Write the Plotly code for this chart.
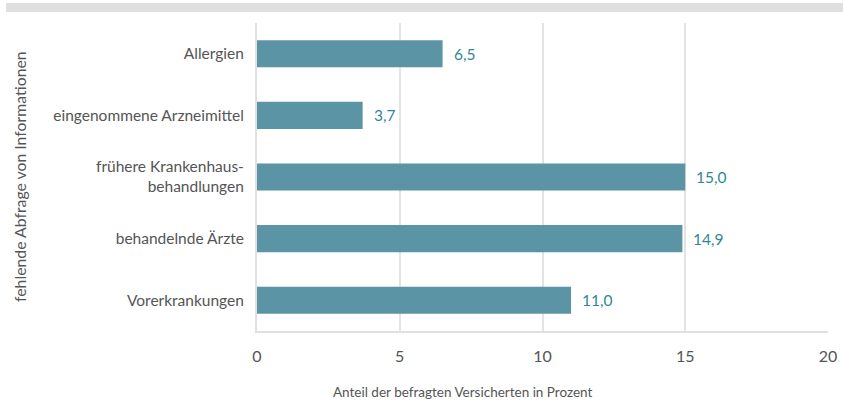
import plotly.graph_objects as go

categories = ["Allergien", "eingenommene Arzneimittel", "frühere Krankenhaus-<br>behandlungen",
              "behandelnde Ärzte", "Vorerkrankungen"]
values = [6.5, 3.7, 15.0, 14.9, 11.0]
labels = ["6,5", "3,7", "15,0", "14,9", "11,0"]
x_ticks = [0, 5, 10, 15, 20]

W, H = 844, 403
L, R, T, B = 257, 16, 23, 72
pw, ph = W - L - R, H - T - B
FONT = "Lato"
FS = 15.5
GREY = "#555555"

fig = go.Figure(go.Bar(
    y=categories, x=values, orientation="h",
    marker=dict(color="#5b95a5", line=dict(width=0)),
    hoverinfo="x+y",
))

annotations = [dict(x=v, y=c, xref="x", yref="y", text=t, showarrow=False,
                    xanchor="left", yanchor="middle", xshift=9,
                    font=dict(family=FONT, size=FS, color="#2f8794"))
               for v, c, t in zip(values, categories, labels)]
annotations.append(dict(x=(19 - L) / pw, y=0.5, xref="paper", yref="paper",
                        text="fehlende Abfrage von Informationen", textangle=-90,
                        showarrow=False, xanchor="center", yanchor="middle",
                        font=dict(family=FONT, size=15.8, color=GREY)))
annotations.append(dict(x=(463 - L) / pw, y=-(392 - (H - B)) / ph, xref="paper", yref="paper",
                        text="Anteil der befragten Versicherten in Prozent",
                        showarrow=False, xanchor="center", yanchor="middle",
                        font=dict(family=FONT, size=13.5, color=GREY)))

fig.update_layout(
    width=W, height=H,
    margin=dict(l=L, r=R, t=T, b=B, autoexpand=False),
    paper_bgcolor="white", plot_bgcolor="white",
    font=dict(family=FONT, size=FS, color=GREY),
    bargap=0.56,
    showlegend=False,
    xaxis=dict(range=[0, 20], tickvals=x_ticks, ticktext=[str(v) for v in x_ticks],
               showgrid=True, gridcolor="#e3e3e3", gridwidth=1.5,
               zeroline=False, showline=True, linecolor="#e0e0e0", linewidth=2,
               ticks="outside", ticklen=10, tickcolor="rgba(0,0,0,0)",
               tickfont=dict(size=16, color=GREY)),
    yaxis=dict(autorange="reversed", showline=True, linecolor="#e0e0e0", linewidth=2,
               showgrid=False, zeroline=False,
               ticks="outside", ticklen=8, tickcolor="rgba(0,0,0,0)",
               tickfont=dict(size=FS, color=GREY)),
    annotations=annotations,
    shapes=[dict(type="rect", xref="paper", yref="paper",
                 x0=(6 - L) / pw, x1=(843 - L) / pw,
                 y0=1 + (T - 12) / ph, y1=1 + (T - 3) / ph,
                 fillcolor="#dfdfdf", line=dict(width=0), layer="below")],
)

fig.write_html("out.html", config={"displayModeBar": False},
               post_script="document.body.style.margin='0';document.body.style.padding='0';")
